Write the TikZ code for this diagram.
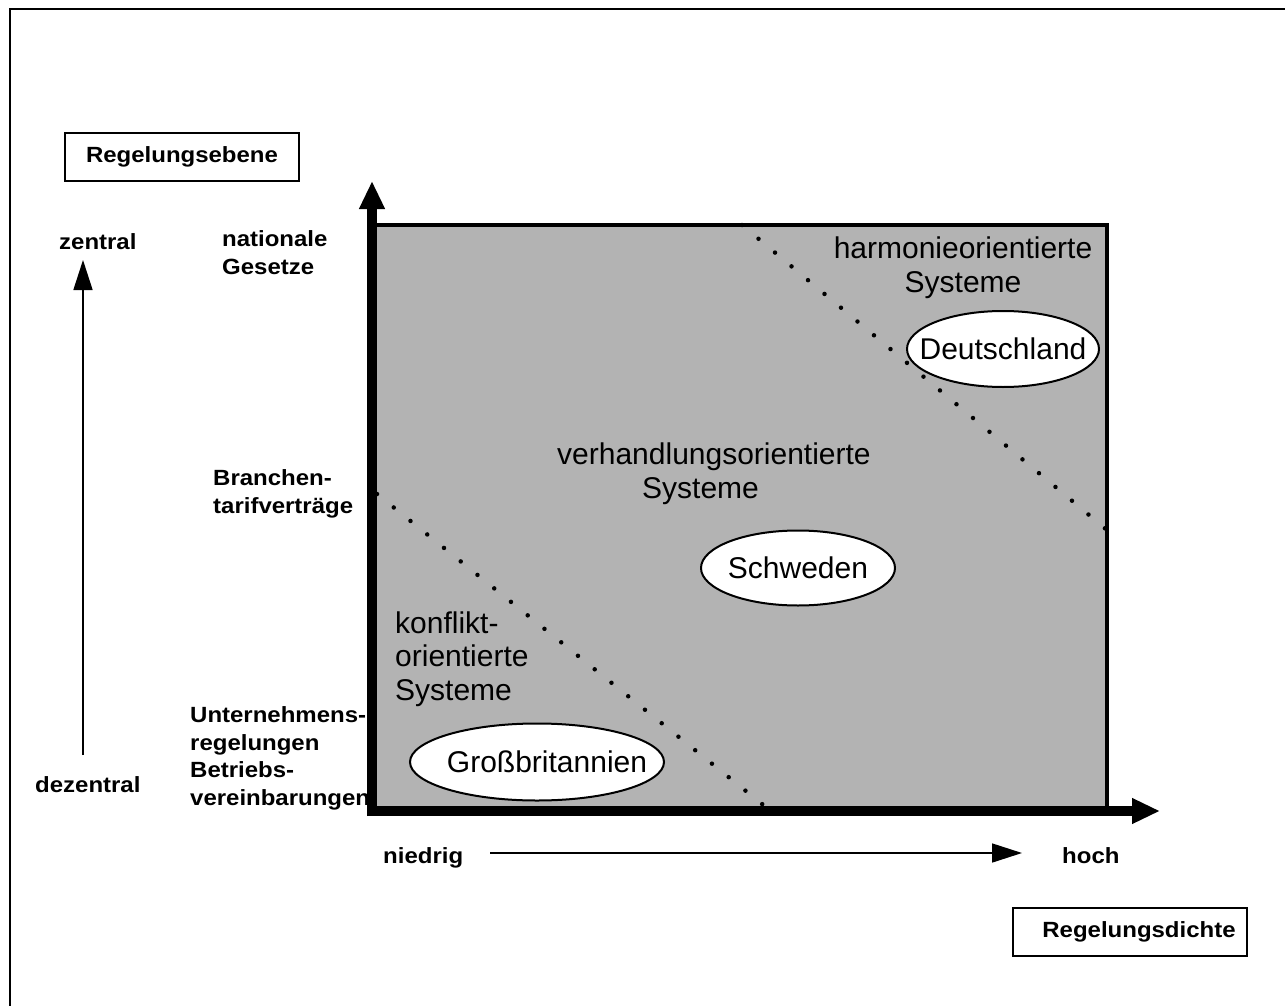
\documentclass[tikz,border=0pt]{standalone}
\usepackage{fontspec}
\setmainfont{Liberation Sans}
\newfontfamily\labfont[FakeStretch=1.09]{Liberation Sans}
\usetikzlibrary{arrows.meta,shapes.geometric}
\definecolor{fieldgray}{RGB}{179,179,179}
\begin{document}
\begin{tikzpicture}[x=1pt,y=-1pt,
  lab/.style={font=\labfont\bfseries\fontsize{22}{27.4}\selectfont, inner sep=0pt, anchor=base west, align=left},
  big/.style={font=\fontsize{30}{33.5}\selectfont, inner sep=0pt},
  land/.style={ellipse, draw, fill=white, line width=2pt, inner sep=0pt},
  titlebox/.style={draw, line width=2pt, minimum width=234pt, minimum height=48pt, inner sep=0pt,
                   font=\labfont\bfseries\fontsize{22}{27.4}\selectfont},
  dots/.style={line width=4.5pt, line cap=round, dash pattern=on 0pt off 21.5pt},
  axis/.style={line width=10pt, -{Triangle[length=28pt,width=24pt]}},
  thinarrow/.style={line width=1.6pt, -{Triangle[length=30pt,width=19pt]}}]

\useasboundingbox (0,0) rectangle (1285,1006);
\begin{scope}
  \clip (0,0) rectangle (1285,1006);
  \draw[line width=2pt] (10,1030) -- (10,9) -- (1310,9);
\end{scope}

% field
\fill[fieldgray] (372,225) rectangle (1107,811);
\draw[line width=4pt] (372,225) -- (1107,225) -- (1107,811);

% dotted borders
\draw[dots] (742,225) -- (1107,530);
\draw[dots] (377,494) -- (767,808);

% axes
\coordinate (Ov) at (372,816);
\coordinate (Oh) at (367,811);
\coordinate (ytip) at (372,181);
\coordinate (xtip) at (1160,811);
\draw[axis] (Ov) -- (ytip);
\draw[axis] (Oh) -- (xtip);

% boxes
\node[titlebox] (ebene) at (182,157) {Regelungsebene};
\node[titlebox] (dichte) at (1130,932) {\hspace*{18pt}Regelungsdichte};

% left labels (base = baseline of last line)
\node[lab] (zentral) at (59,249) {zentral};
\node[lab] (dezentral) at (35,792) {dezentral};
\node[lab] (national) at (222,274) {nationale\\Gesetze};
\node[lab] (branche) at (213,513) {Branchen-\\tarifverträge};
\node[lab] (unternehmen) at (190,805) {Unternehmens-\\regelungen\\Betriebs-\\vereinbarungen};
\node[lab] (niedrig) at (383,863) {niedrig};
\node[lab] (hoch) at (1062,863) {hoch};

% small arrows
\coordinate (vfrom) at (83,755);
\coordinate (vto) at (83,260);
\coordinate (hfrom) at (490,853);
\coordinate (hto) at (1022,853);
\draw[thinarrow] (vfrom) -- (vto);
\draw[thinarrow] (hfrom) -- (hto);

% region texts
\node[big, anchor=base, align=center] (harm) at (963,292) {harmonieorientierte\\Systeme};
\node[big, anchor=base west, align=left] (verh) at (557,498) {verhandlungsorientierte\\\hspace*{85pt}Systeme};
\node[big, anchor=base west, align=left] (konf) at (395,700) {konflikt-\\orientierte\\Systeme};

% countries
\node[land, minimum width=192pt, minimum height=76pt] (de) at (1003,349) {};
\node[big] (detxt) at (de.center) {Deutschland};
\node[land, minimum width=194pt, minimum height=75pt] (se) at (798,568) {};
\node[big] (setxt) at (se.center) {Schweden};
\node[land, minimum width=254pt, minimum height=77pt] (gb) at (537,762) {};
\node[big] (gbtxt) at ([xshift=10pt]gb.center) {Großbritannien};
\end{tikzpicture}
\end{document}
